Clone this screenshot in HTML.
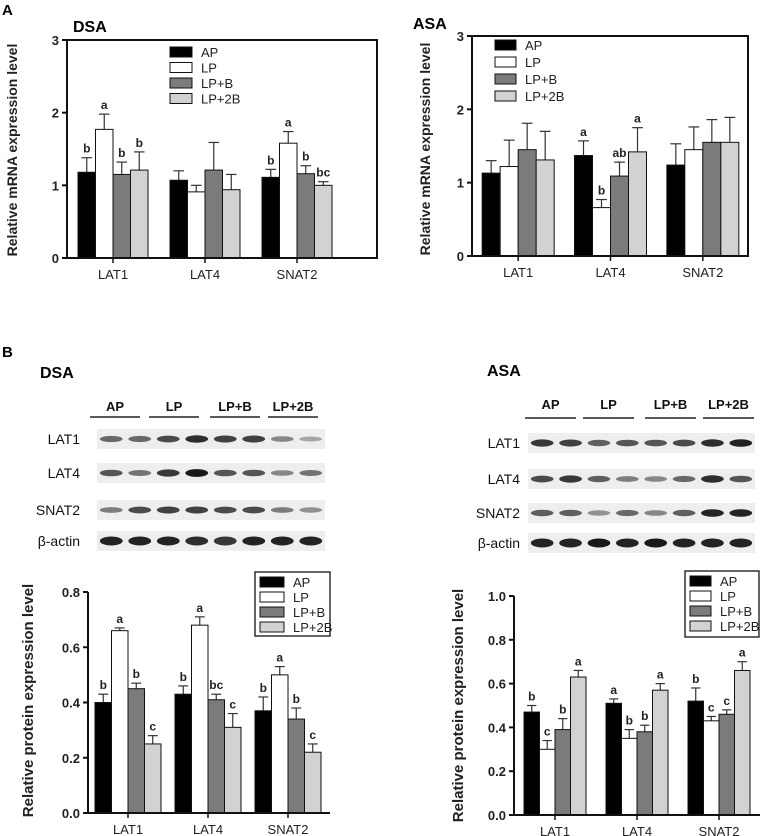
<!DOCTYPE html>
<html><head><meta charset="utf-8"><style>
html,body{margin:0;padding:0;background:#fff;}
svg{display:block;font-family:"Liberation Sans",Arial,sans-serif;}
</style></head><body>
<svg id="fig" width="764" height="836" viewBox="0 0 764 836" xmlns="http://www.w3.org/2000/svg">
<rect x="0" y="0" width="764" height="836" fill="#fff"/>
<text x="2" y="15" font-size="15" font-weight="bold">A</text>
<text x="2" y="357" font-size="15" font-weight="bold">B</text>
<text x="73" y="32" font-size="16" font-weight="bold">DSA</text>
<text x="413" y="29" font-size="16" font-weight="bold">ASA</text>
<text x="40" y="378" font-size="16" font-weight="bold">DSA</text>
<text x="487" y="376" font-size="16" font-weight="bold">ASA</text>
<g id="layer"></g>
</svg>
<script>
// ---- data ----
const categories = ["LAT1","LAT4","SNAT2"];
const seriesNames = ["AP","LP","LP+B","LP+2B"];
const mrnaTicks = ["0","1","2","3"];
const protTicksDSA = ["0.0","0.2","0.4","0.6","0.8"];
const protTicksASA = ["0.0","0.2","0.4","0.6","0.8","1.0"];

// A left (DSA mRNA)
const dsaMrnaAP = [1.18,1.07,1.11];
const dsaMrnaLP = [1.77,0.91,1.58];
const dsaMrnaLPB = [1.15,1.21,1.16];
const dsaMrnaLP2B = [1.21,0.94,1.00];
const dsaMrnaErrAP = [0.20,0.13,0.11];
const dsaMrnaErrLP = [0.21,0.09,0.16];
const dsaMrnaErrLPB = [0.17,0.38,0.11];
const dsaMrnaErrLP2B = [0.25,0.21,0.05];
const dsaMrnaLetters = [["b","","b"],["a","","a"],["b","","b"],["b","","bc"]];

// A right (ASA mRNA)
const asaMrnaAP = [1.13,1.37,1.24];
const asaMrnaLP = [1.22,0.66,1.45];
const asaMrnaLPB = [1.45,1.09,1.55];
const asaMrnaLP2B = [1.31,1.42,1.55];
const asaMrnaErrAP = [0.17,0.20,0.29];
const asaMrnaErrLP = [0.36,0.11,0.31];
const asaMrnaErrLPB = [0.36,0.19,0.31];
const asaMrnaErrLP2B = [0.39,0.33,0.34];
const asaMrnaLetters = [["","a",""],["","b",""],["","ab",""],["","a",""]];

// B left (DSA protein)
const dsaProtAP = [0.40,0.43,0.37];
const dsaProtLP = [0.66,0.68,0.50];
const dsaProtLPB = [0.45,0.41,0.34];
const dsaProtLP2B = [0.25,0.31,0.22];
const dsaProtErrAP = [0.03,0.03,0.05];
const dsaProtErrLP = [0.01,0.03,0.03];
const dsaProtErrLPB = [0.02,0.02,0.04];
const dsaProtErrLP2B = [0.03,0.05,0.03];
const dsaProtLetters = [["b","b","b"],["a","a","a"],["b","bc","b"],["c","c","c"]];

// B right (ASA protein)
const asaProtAP = [0.47,0.51,0.52];
const asaProtLP = [0.30,0.35,0.43];
const asaProtLPB = [0.39,0.38,0.46];
const asaProtLP2B = [0.63,0.57,0.66];
const asaProtErrAP = [0.03,0.02,0.06];
const asaProtErrLP = [0.04,0.04,0.02];
const asaProtErrLPB = [0.05,0.03,0.02];
const asaProtErrLP2B = [0.03,0.03,0.04];
const asaProtLetters = [["b","a","b"],["c","b","c"],["b","b","c"],["a","a","a"]];

// Western blot band intensities (0..1) per lane
const blotRows = ["LAT1","LAT4","SNAT2","β-actin"];
const dsaBlotLAT1 = [0.55,0.55,0.7,0.85,0.75,0.75,0.4,0.25];
const dsaBlotLAT4 = [0.65,0.5,0.8,0.95,0.65,0.65,0.4,0.5];
const dsaBlotSNAT2 = [0.45,0.7,0.75,0.75,0.7,0.7,0.45,0.35];
const dsaBlotActin = [0.9,0.9,0.9,0.85,0.8,0.9,0.9,0.9];
const asaBlotLAT1 = [0.8,0.75,0.6,0.65,0.65,0.7,0.85,0.9];
const asaBlotLAT4 = [0.7,0.8,0.6,0.45,0.4,0.55,0.85,0.65];
const asaBlotSNAT2 = [0.6,0.6,0.35,0.55,0.4,0.6,0.9,0.9];
const asaBlotActin = [0.9,0.9,0.95,0.9,0.95,0.9,0.9,0.9];

const fills = ["#000","#fff","#7b7b7b","#d2d2d2"];
const NS = "http://www.w3.org/2000/svg";
const layer = document.getElementById('layer');
function mk(tag, attrs, parent){
  const e = document.createElementNS(NS, tag);
  for (const k in attrs) e.setAttribute(k, attrs[k]);
  (parent||layer).appendChild(e);
  return e;
}

function drawChart(c){
  const g = mk('g', {});
  
  
  const yS = v => c.y0 - (v - c.vmin) / (c.vmax - c.vmin) * (c.y0 - c.y1);
  const step = (c.xEnd0 - c.x0) / categories.length;
  const cx = i => c.x0 + (i + 0.5) * step;
  for (let s = 0; s < 4; s++){
    for (let i = 0; i < categories.length; i++){
      const v = c.means[s][i], e = c.errs[s][i];
      const bx = cx(i) - 2*c.bw + s*c.bw;
      const top = yS(v), etop = yS(v + e);
      const mid = bx + c.bw/2;
      const el = mk('line', {x1:mid, y1:top, x2:mid, y2:etop, stroke:'#333', 'stroke-width':1.2}, g);
      
      
      const cap = mk('line', {x1:mid - c.bw*0.3, y1:etop, x2:mid + c.bw*0.3, y2:etop, stroke:'#333', 'stroke-width':1.2}, g);
      
      
      const r = mk('rect', {x:bx, y:top, width:c.bw, height:c.y0 - top, fill:fills[s], stroke:'#111', 'stroke-width':1}, g);
      
      
      const L = c.letters[s][i];
      if (L){
        const t = mk('text', {x:mid, y:etop - 5, 'font-size':12, 'font-weight':'bold', 'text-anchor':'middle', fill:'#222'}, g);
        t.textContent = L;
        
        
      }
    }
  }
  const ax = mk('path', {d:`M${c.x0},${c.y1} L${c.x0},${c.y0} L${c.xEnd},${c.y0}` + (c.box ? ` L${c.xEnd},${c.y1} Z` : ''), fill:'none', stroke:'#111', 'stroke-width':2}, g);
  
  
  c.ticks.forEach((lbl, k) => {
    const v = c.vmin + k * (c.vmax - c.vmin) / (c.ticks.length - 1);
    const y = yS(v);
    const tk = mk('line', {x1:c.x0 - 5, y1:y, x2:c.x0, y2:y, stroke:'#111', 'stroke-width':2}, g);
    
    
    const t = mk('text', {x:c.x0 - 8, y:y + 5, 'font-size':13, 'font-weight':'bold', 'text-anchor':'end', fill:'#222'}, g);
    t.textContent = lbl;
    
    
  });
  categories.forEach((cat, i) => {
    const tk = mk('line', {x1:cx(i), y1:c.y0, x2:cx(i), y2:c.y0 + 5, stroke:'#111', 'stroke-width':1.5}, g);
    
    
    const t = mk('text', {x:cx(i), y:c.y0 + 21, 'font-size':13, 'text-anchor':'middle', fill:'#222'}, g);
    t.textContent = cat;
    
    
  });
  const yt = mk('text', {x:0, y:0, 'font-size':c.ytfs, 'font-weight':'bold', 'text-anchor':'middle', fill:'#222', transform:`translate(${c.ytx},${(c.y0 + c.y1)/2 + c.ytdy}) rotate(-90)`}, g);
  yt.textContent = c.ytitle;
  
  
  const lg = mk('g', {}, g);
  
  
  if (c.legBox){
    const b = mk('rect', {x:c.legBox[0], y:c.legBox[1], width:c.legBox[2], height:c.legBox[3], fill:'#fff', stroke:'#111', 'stroke-width':1.3}, lg);
    
    
  }
  seriesNames.forEach((n, s) => {
    const y = c.legY + s * c.legDy;
    const sw = mk('rect', {x:c.legX, y:y - 5, width:c.legW, height:10, fill:fills[s], stroke:'#111', 'stroke-width':1}, lg);
    
    
    const t = mk('text', {x:c.legX + c.legW + 9, y:y + 5, 'font-size':13, fill:'#222'}, lg);
    t.textContent = n;
    
    
  });
}

drawChart({name:'dsa-mrna-chart', x0:67, xEnd0:343, xEnd:377, y0:258, y1:40, vmin:0, vmax:3, bw:17.5, box:true,
  means:[dsaMrnaAP,dsaMrnaLP,dsaMrnaLPB,dsaMrnaLP2B], errs:[dsaMrnaErrAP,dsaMrnaErrLP,dsaMrnaErrLPB,dsaMrnaErrLP2B],
  letters:dsaMrnaLetters, ticks:mrnaTicks, ytitle:'Relative mRNA expression level', ytx:17, ytdy:1, ytfs:14,
  legX:170, legW:22, legY:52, legDy:15.5});
drawChart({name:'asa-mrna-chart', x0:472, xEnd0:749, xEnd:748, y0:256, y1:36, vmin:0, vmax:3, bw:18, box:true,
  means:[asaMrnaAP,asaMrnaLP,asaMrnaLPB,asaMrnaLP2B], errs:[asaMrnaErrAP,asaMrnaErrLP,asaMrnaErrLPB,asaMrnaErrLP2B],
  letters:asaMrnaLetters, ticks:mrnaTicks, ytitle:'Relative mRNA expression level', ytx:430, ytdy:3, ytfs:14,
  legX:495, legW:21, legY:45, legDy:17});
drawChart({name:'dsa-protein-chart', x0:88, xEnd0:328, xEnd:330, y0:813, y1:592, vmin:0, vmax:0.8, bw:16.5, box:false,
  means:[dsaProtAP,dsaProtLP,dsaProtLPB,dsaProtLP2B], errs:[dsaProtErrAP,dsaProtErrLP,dsaProtErrLPB,dsaProtErrLP2B],
  letters:dsaProtLetters, ticks:protTicksDSA, ytitle:'Relative protein expression level', ytx:33, ytdy:-2, ytfs:15,
  legBox:[255,572,75,64], legX:260, legW:24, legY:582, legDy:15});
drawChart({name:'asa-protein-chart', x0:514, xEnd0:760, xEnd:760, y0:815, y1:596, vmin:0, vmax:1.0, bw:15.5, box:false,
  means:[asaProtAP,asaProtLP,asaProtLPB,asaProtLP2B], errs:[asaProtErrAP,asaProtErrLP,asaProtErrLPB,asaProtErrLP2B],
  letters:asaProtLetters, ticks:protTicksASA, ytitle:'Relative protein expression level', ytx:463, ytdy:0, ytfs:15,
  legBox:[685,571,74,66], legX:690, legW:21, legY:581, legDy:15});

function drawBlot(b){
  const g = mk('g', {});
  
  
  seriesNames.forEach((n, k) => {
    const gx = b.groupX[k];
    const t = mk('text', {x:gx + b.groupW/2, y:b.labelY, 'font-size':13, 'font-weight':'bold', 'text-anchor':'middle', fill:'#111'}, g);
    t.textContent = n;
    
    
    const l = mk('line', {x1:gx, y1:b.lineY, x2:gx + b.groupW, y2:b.lineY, stroke:'#222', 'stroke-width':1.5}, g);
    
    
  });
  const laneW = (b.stripX2 - b.stripX1) / 8;
  blotRows.forEach((rn, r) => {
    const y = b.rowY[r];
    const t = mk('text', {x:b.labelX, y:y + 5, 'font-size':14, 'text-anchor':'end', fill:'#111'}, g);
    t.textContent = rn;
    
    
    const st = mk('rect', {x:b.stripX1, y:y - 10, width:b.stripX2 - b.stripX1, height:20, fill:'#eeeeee'}, g);
    
    
    b.rows[r].forEach((v, i) => {
      const h = r === 3 ? 9 : 4 + v*4;
      const sh = Math.round(215 - v*200);
      const e = mk('ellipse', {cx:b.stripX1 + (i + 0.5)*laneW, cy:y, rx:laneW*0.4, ry:h/2, fill:`rgb(${sh},${sh},${sh})`}, g);
      
      
    });
  });
}
drawBlot({name:'dsa-western-blot', groupX:[90,149,210,268], groupW:50, labelY:411, lineY:417, labelX:80,
  stripX1:97, stripX2:325, rowY:[439,473,510,541], rows:[dsaBlotLAT1,dsaBlotLAT4,dsaBlotSNAT2,dsaBlotActin]});
drawBlot({name:'asa-western-blot', groupX:[525,583,645,703], groupW:51, labelY:409, lineY:418, labelX:520,
  stripX1:528, stripX2:755, rowY:[443,479,513,543], rows:[asaBlotLAT1,asaBlotLAT4,asaBlotSNAT2,asaBlotActin]});
</script>
</body></html>
